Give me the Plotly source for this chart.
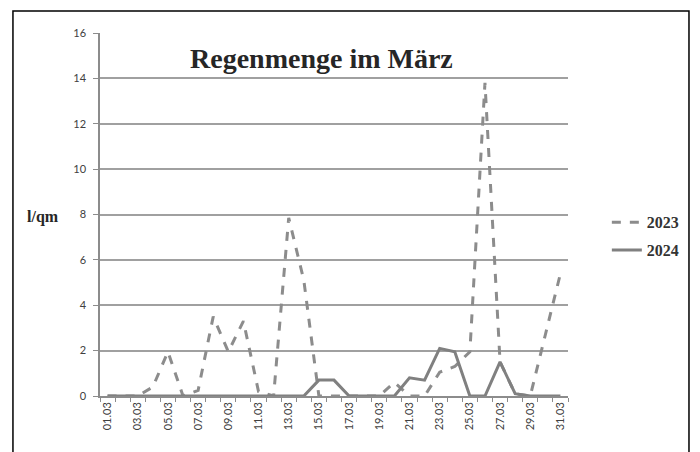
import plotly.graph_objects as go

days = ["01.03","02.03","03.03","04.03","05.03","06.03","07.03","08.03","09.03","10.03",
        "11.03","12.03","13.03","14.03","15.03","16.03","17.03","18.03","19.03","20.03",
        "21.03","22.03","23.03","24.03","25.03","26.03","27.03","28.03","29.03","30.03","31.03"]
rain_2023 = [0, 0, 0, 0.4, 1.95, 0, 0.25, 3.5, 1.95, 3.3,
             0.2, 0, 7.85, 5.1, 0, 0, 0, 0, 0, 0.6,
             0, 0, 1.05, 1.3, 1.95, 13.8, 1.5, 0.1, 0, 2.7, 5.4]
rain_2024 = [0, 0, 0, 0, 0, 0, 0, 0, 0, 0,
             0, 0, 0, 0, 0.7, 0.7, 0, 0, 0, 0,
             0.8, 0.7, 2.1, 1.95, 0, 0, 1.5, 0.1, 0, 0, 0]
y_ticks = [0, 2, 4, 6, 8, 10, 12, 14, 16]

x_idx = list(range(len(days)))
serif = "Liberation Serif"
tick_font = dict(family="Lato", size=11, color="#404040")

fig = go.Figure()
fig.add_trace(go.Scatter(x=x_idx, y=rain_2023, mode="lines", name="2023",
                         line=dict(color="#8c8c8c", width=3, dash="dash"),
                         legendgroup="a"))
fig.add_trace(go.Scatter(x=x_idx, y=rain_2024, mode="lines", name="2024",
                         line=dict(color="#808080", width=3),
                         legendgroup="b"))

fig.update_layout(
    width=700, height=452,
    margin=dict(l=92, r=140, t=25, b=64),
    paper_bgcolor="white", plot_bgcolor="white",
    showlegend=True,
    legend=dict(x=1.083, y=0.44, xanchor="left", yanchor="middle",
                font=dict(family=serif, size=16, color="#333333", weight="bold"),
                tracegroupgap=4, bgcolor="rgba(0,0,0,0)"),
    xaxis=dict(range=[-0.5, len(days) - 0.5], tickvals=x_idx[::2], ticktext=days[::2],
               tickangle=-90, tickfont=tick_font, showgrid=False, zeroline=False,
               showline=True, linecolor="#8c8c8c", linewidth=1.5, ticks="",
               minor=dict(ticks="outside", tick0=-0.5, dtick=1, ticklen=4,
                          tickcolor="#8c8c8c", showgrid=False),
               fixedrange=True),
    yaxis=dict(range=[0, 16], tickvals=y_ticks, tickfont=tick_font,
               showgrid=True, gridcolor="#a0a0a0", gridwidth=1.5,
               zeroline=False, showline=True, linecolor="#8c8c8c", linewidth=1.5,
               ticks="outside", ticklen=5, tickcolor="#8c8c8c",
               ticklabelstandoff=5, fixedrange=True),
    annotations=[
        dict(text="<b>Regenmenge im März</b>", x=0.474, y=0.931, xref="paper", yref="paper",
             showarrow=False, font=dict(family=serif, size=28, color="#262626"),
             xanchor="center", yanchor="middle"),
        dict(text="<b>l/qm</b>", x=-0.122, y=0.493, xref="paper", yref="paper",
             showarrow=False, font=dict(family=serif, size=16, color="#262626"),
             xanchor="center", yanchor="middle"),
    ],
    shapes=[dict(type="rect", xref="paper", yref="paper",
                 x0=-0.186, x1=1.2585, y0=-0.3, y1=1.0606,
                 line=dict(color="black", width=1.5), fillcolor="rgba(0,0,0,0)")],
)

fig.write_html("out.html")
